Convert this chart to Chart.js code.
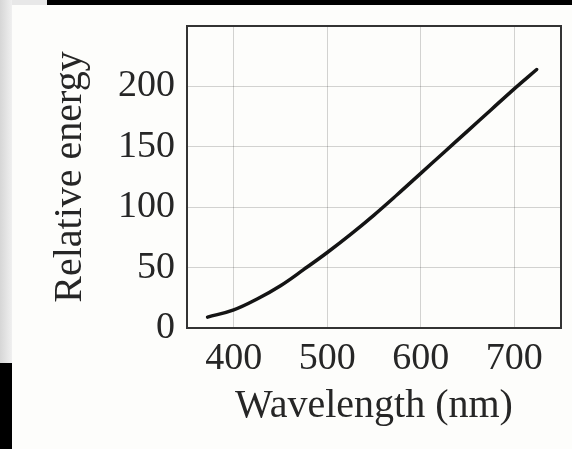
<!DOCTYPE html>
<html><head><meta charset="utf-8">
<script src="https://cdn.jsdelivr.net/npm/chart.js@4/dist/chart.umd.min.js"></script>
<style>
html,body{margin:0;padding:0;background:#fdfdfb;}
#wrap{position:relative;width:572px;height:449px;overflow:hidden;background:#fdfdfb;}
canvas{position:absolute;left:0;top:0;}
.d{position:absolute;}
</style></head><body>
<div id="wrap">
<div class="d" style="left:0;top:0;width:12px;height:363px;background:linear-gradient(to right,#d6d6d6,#f0f0f0);"></div>
<div class="d" style="left:12px;top:0;width:35px;height:5px;background:#e8e8e8;"></div>
<div class="d" style="left:47px;top:0;width:525px;height:5px;background:#000;"></div>
<div class="d" style="left:0;top:363px;width:12px;height:86px;background:#000;"></div>
<canvas id="c" width="572" height="449"></canvas>
</div>
<script>
// Data
const wavelengths = [372, 400, 425, 450, 475, 500, 525, 550, 575, 600, 625, 650, 675, 700, 724];
const energy      = [9,   15,  24,  35,  48.5, 62.5, 77.5, 93.5, 110.5, 128, 145.5, 163, 180.5, 198, 214];
const xTicks = [400, 500, 600, 700];
const yTicks = [0, 50, 100, 150, 200];
const xLabel = 'Wavelength (nm)';
const yLabel = 'Relative energy';

const serif = "'Liberation Serif', 'DejaVu Serif', serif";
const textColor = '#262626';
const gridColor = 'rgba(0,0,0,0.17)';

const framePlugin = {
  id: 'frame',
  beforeDatasetsDraw(chart) {
    const {ctx, chartArea: a} = chart;
    ctx.save();
    ctx.strokeStyle = '#333333';
    ctx.lineWidth = 2;
    ctx.strokeRect(a.left, a.top, a.right - a.left, a.bottom - a.top);
    ctx.restore();
  }
};

new Chart(document.getElementById('c'), {
  type: 'line',
  data: {
    datasets: [{
      data: wavelengths.map((w, i) => ({x: w, y: energy[i]})),
      borderColor: '#141414',
      borderWidth: 3.5,
      borderCapStyle: 'round',
      pointRadius: 0,
      tension: 0.4,
      fill: false
    }]
  },
  options: {
    responsive: false,
    animation: false,
    events: [],
    layout: {padding: {left: 0, top: 26, right: 11, bottom: 0}},
    plugins: {legend: {display: false}, tooltip: {enabled: false}},
    scales: {
      x: {
        type: 'linear',
        min: 350, max: 750,
        afterBuildTicks: s => { s.ticks = xTicks.map(v => ({value: v})); },
        afterFit: s => { s.height = 121; s.paddingLeft = 0; s.paddingRight = 0; },
        grid: {color: gridColor, lineWidth: 1, drawTicks: false},
        border: {display: false},
        ticks: {padding: 8, color: textColor, font: {family: serif, size: 38}, maxRotation: 0},
        title: {display: true, text: xLabel, color: textColor, font: {family: serif, size: 40}, padding: {top: 0, bottom: 19}}
      },
      y: {
        min: 0, max: 250,
        afterBuildTicks: s => { s.ticks = yTicks.map(v => ({value: v})); },
        afterFit: s => { s.width = 187; s.paddingTop = 0; s.paddingBottom = 0; },
        grid: {color: gridColor, lineWidth: 1, drawTicks: false},
        border: {display: false},
        ticks: {padding: 12, color: textColor, font: {family: serif, size: 38}},
        title: {display: true, text: yLabel, color: textColor, font: {family: serif, size: 40}, padding: {top: 46, bottom: 0}}
      }
    }
  },
  plugins: [framePlugin]
});
</script>
</body></html>
